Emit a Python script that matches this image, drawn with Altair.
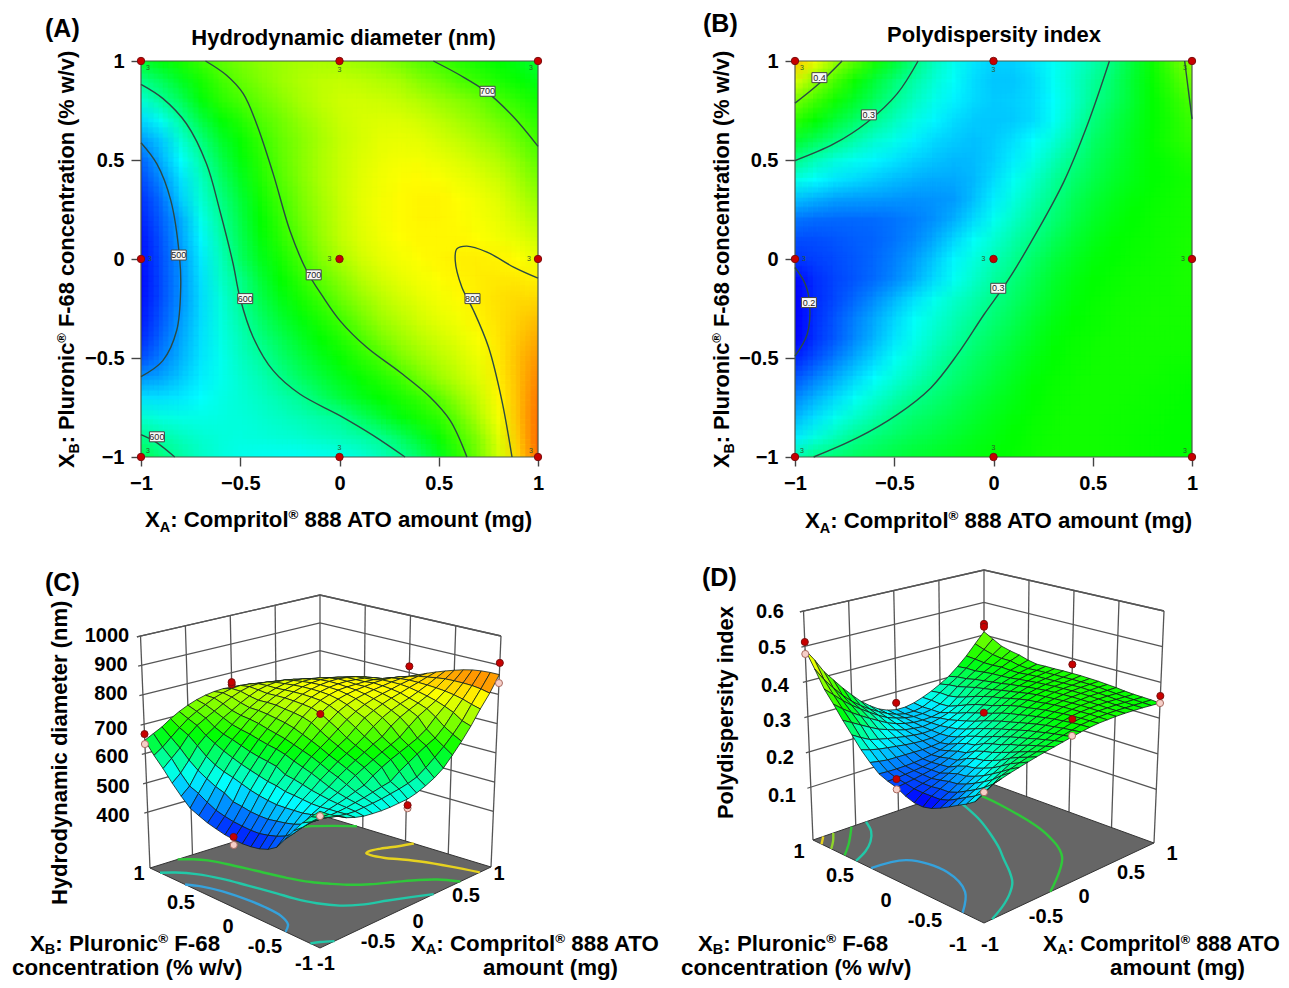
import altair as alt
import pandas as pd

FONT = "Liberation Sans"
GRID = [round(-1 + i * 0.1, 1) for i in range(21)]

# Hydrodynamic diameter (nm), rows from XB=1 down to XB=-1, columns XA=-1..1
A_ROWS = [
    [645,660,675,695,712,726,737,745,750,752,750,745,738,725,710,697,685,675,665,655,640],
    [605,625,650,675,698,715,730,745,755,762,765,762,757,750,735,722,705,693,680,668,655],
    [572,598,625,660,685,702,718,735,750,762,770,772,770,765,757,745,735,722,702,688,672],
    [535,560,595,635,662,682,705,722,740,755,768,775,778,778,772,762,750,738,722,705,686],
    [503,528,572,610,645,668,692,715,733,750,765,775,782,785,782,775,765,753,740,720,698],
    [475,515,555,592,630,660,685,712,733,752,767,778,786,790,790,786,778,768,757,737,712],
    [462,497,540,580,618,650,680,707,730,752,768,780,789,794,796,794,788,780,770,750,727],
    [450,482,530,572,607,640,672,699,725,748,767,781,790,796,799,799,795,789,780,762,742],
    [442,474,512,562,598,633,665,692,720,745,765,780,790,796,799,799,796,792,785,772,757],
    [435,468,508,552,590,628,660,685,712,740,762,778,788,795,797,797,797,795,790,783,771],
    [432,465,502,545,582,622,652,675,700,730,752,770,782,790,795,798,801,802,800,795,785],
    [430,463,500,540,578,605,640,665,688,712,735,757,772,783,790,795,799,803,805,804,800],
    [432,464,500,537,570,600,630,655,675,695,718,740,758,772,782,790,796,803,808,812,813],
    [437,470,505,538,568,593,620,642,660,680,698,722,745,760,773,783,791,800,808,817,825],
    [447,478,510,540,565,585,608,628,648,665,682,702,725,745,760,772,782,794,807,822,836],
    [465,490,517,542,562,580,596,617,635,652,668,685,700,725,745,760,773,787,805,826,846],
    [502,510,528,548,562,575,587,603,622,638,653,668,682,697,722,745,762,779,802,827,855],
    [540,540,545,555,565,572,580,590,600,620,637,652,665,678,692,712,742,768,797,827,862],
    [575,568,565,565,567,570,575,580,587,594,600,622,640,658,675,690,718,755,790,826,866],
    [605,592,582,575,570,568,570,572,575,580,585,592,602,622,645,670,700,735,780,822,868],
    [632,612,595,580,570,563,560,558,558,560,562,570,582,597,618,650,685,725,772,815,868],
]
# Polydispersity index x 1000
B_ROWS = [
    [490,455,415,385,355,328,302,282,265,254,248,248,253,262,273,287,303,325,350,380,410],
    [445,408,378,350,326,306,289,274,261,251,245,245,250,262,277,293,309,328,348,370,395],
    [398,375,352,331,313,296,280,266,257,250,246,247,251,260,276,296,312,328,345,362,380],
    [365,345,327,311,296,282,268,258,251,246,245,246,251,262,281,303,318,332,345,358,373],
    [330,316,302,288,275,266,257,250,246,243,246,252,260,272,290,310,322,335,347,358,368],
    [299,284,271,264,258,253,248,244,241,242,247,256,267,283,300,315,326,336,345,352,360],
    [268,260,254,250,246,242,239,237,237,241,251,263,277,293,308,320,330,338,345,350,355],
    [243,238,234,233,232,231,230,231,233,243,256,270,285,300,315,326,335,342,348,352,356],
    [222,220,219,219,220,222,225,230,238,250,264,278,293,306,320,331,339,345,350,353,356],
    [212,212,214,216,218,222,228,237,249,261,274,288,301,315,327,336,343,348,351,354,357],
    [205,208,211,215,219,225,234,245,258,270,283,296,310,323,333,341,346,350,352,354,357],
    [192,203,209,214,220,228,238,250,263,277,291,304,317,329,338,345,349,352,353,355,357],
    [184,202,210,219,229,240,252,264,276,287,299,310,322,333,341,347,351,353,354,355,356],
    [183,203,214,225,237,249,261,272,284,295,306,317,328,338,345,349,352,354,355,355,355],
    [189,204,215,228,240,253,265,278,290,303,313,323,333,342,348,351,353,354,354,354,353],
    [200,212,224,237,249,262,274,287,300,310,320,329,338,345,350,352,353,354,353,352,351],
    [213,225,237,249,260,272,284,296,306,316,325,334,342,348,351,353,353,353,352,350,348],
    [227,239,250,262,274,286,298,306,315,323,331,338,345,350,352,353,353,352,350,348,346],
    [240,252,265,277,289,301,309,315,322,329,336,342,348,351,353,353,352,351,349,347,345],
    [256,270,283,297,305,312,318,323,329,335,340,345,350,352,353,353,352,350,348,346,344],
    [285,301,307,313,318,323,328,332,336,340,344,348,351,353,353,353,352,350,348,345,342],
]
assert all(len(r) == 21 for r in A_ROWS + B_ROWS) and len(A_ROWS) == 21 and len(B_ROWS) == 21

A_DOMAIN = [425, 555, 665, 795, 920]
B_DOMAIN = [190, 260, 345, 460, 600]
RAINBOW = ["#0000ff", "#00ffff", "#00ff00", "#ffff00", "#ff0000"]

A_CONTOURS = [
    (500, [(-1,.587),(-.92,.48),(-.85,.296),(-.805,0),(-.80,-.142),(-.82,-.36),(-.89,-.513),(-1,-.594)]),
    (600, [(-1,.882),(-.889,.81),(-.771,.683),(-.67,.481),(-.603,.245),(-.536,-.024),(-.502,-.193),(-.435,-.395),(-.334,-.564),(-.2,-.682),(.002,-.791),(.171,-.892),(.33,-1)]),
    (600, [(-1,-.887),(-.923,-.926),(-.83,-1)]),
    (700, [(-.675,1),(-.569,.928),(-.485,.835),(-.418,.683),(-.334,.43),(-.25,.144),(-.166,-.058),(-.082,-.193),(.002,-.311),(.137,-.446),(.305,-.572),(.457,-.698),(.558,-.816),(.642,-1)]),
    (700, [(.473,1),(.608,.928),(.743,.843),(.877,.717),(1,.569)]),
    (800, [(1,-.097),(.877,-.041),(.743,.035),(.641,.065),(.591,.051),(.583,-.008),(.616,-.142),(.675,-.26),(.751,-.446),(.818,-.715),(.869,-1)]),
]
B_CONTOURS = [
    (200, [(-1,-.043),(-.948,-.127),(-.926,-.229),(-.939,-.381),(-1,-.49)]),
    (300, [(-.906,-1),(-.687,-.904),(-.485,-.786),(-.316,-.651),(-.182,-.482),(-.047,-.279),(.071,-.111),(.222,.143),(.357,.396),(.475,.683),(.584,1)]),
    (300, [(-1,.497),(-.805,.581),(-.636,.691),(-.485,.835),(-.38,1)]),
    (400, [(-1,.787),(-.88,.885),(-.763,1)]),
    (400, [(.963,1),(1,.708)]),
]
D_EXTRA_CONTOURS = [
    (250, [(-1,.32),(-.66,.24),(-.57,-.14),(-.72,-.5),(-1,-.75)]),
    (350, [(-.22,-1),(.31,-.61),(.55,-.18),(.72,.54),(.75,1)]),
    (350, [(-1,.63),(-.8,.78),(-.55,1)]),
    (450, [(-1,.9),(-.88,1)]),
]
A_LABELS = [(-.81,.02,"500"),(-.475,-.2,"600"),(-.13,-.08,"700"),(.67,-.2,"800"),(.746,.847,"700"),(-.92,-.898,"600")]
B_LABELS = [(-.877,.916,"0.4"),(-.628,.728,"0.3"),(-.93,-.22,"0.2"),(.024,-.148,"0.3")]

DESIGN_A = [-1, -1, -1, 0, 0, 0, 1, 1, 1]
DESIGN_B = [-1, 0, 1, -1, 0, 1, -1, 0, 1]
REP_DX = [7, 9, 7, 0, -10, 0, -7, -9, -7]
REP_DY = [-6, 0, 7, -9, 0, 9, -6, 0, 7]

C_ABOVE = [(-1,1,666),(0,1,759),(0,1,767),(1,0,822),(1,-1,908),(0,0,750),(0,-1,542),(-1,0,440)]
C_BELOW = [(-1,1,632),(1,-1,839),(0,-1,532),(-1,0,414),(-1,-1,617)]
D_ABOVE = [(-1,1,512),(1,1,434),(1,1,425),(1,0,383),(1,-1,362),(0,1,268),(0,0,328),(0,-1,392),(-1,0,228)]
D_BELOW = [(-1,1,478),(1,-1,342),(0,-1,347),(-1,0,200),(-1,-1,290)]

Z_C = [400, 500, 600, 700, 800, 900, 1000]
Z_D = [100, 200, 300, 400, 500, 600]
Z_C_TEXT = ["400", "500", "600", "700", "800", "900", "1000"]
Z_D_TEXT = ["0.1", "0.2", "0.3", "0.4", "0.5", "0.6"]
Z_C_LABEL_POS = [(113,816),(113,787),(112,757),(111,729),(111,694),(111,665),(107,636)]
Z_D_LABEL_POS = [(782,796),(780,758),(777,721),(775,686),(772,648),(770,612)]
FLOOR_TEXT = ["1", "0.5", "0", "-0.5", "-1", "-1", "-0.5", "0", "0.5", "1"]
C_FLOOR_POS = [(139,874),(181,903),(228,927),(265,947),(304,964),(326,964),(378,942),(418,922),(466,896),(499,874)]
D_FLOOR_POS = [(799,852),(840,876),(886,901),(925,921),(958,945),(990,945),(1046,917),(1084,897),(1131,873),(1172,854)]

C_FLOOR_COLORS = {500: "#35a2dc", 600: "#22c8a8", 700: "#2fc83a", 800: "#e6d21f"}
D_FLOOR_COLORS = {250: "#35a2dc", 300: "#22c8a8", 350: "#2fc83a", 400: "#8fd42a", 450: "#e6d21f"}

WIDTHS = {" ":278,"X":667,"A":722,"B":722,":":333,"C":722,"o":611,"m":889,"p":611,"r":389,"i":278,"t":333,"l":278,
          "®":737,"8":556,"T":611,"O":778,"a":556,"u":611,"n":611,"(":333,")":333,"g":611,"P":667,"F":611,"-":333,
          "6":556,"c":556,"e":556,"%":889,"w":556,"/":278,"v":556,"d":611,"H":722,"y":556,"s":556,"x":556}
TITLE_XA = [("X",1,0),("A",.65,.22),(": Compritol",1,0),("®",.6,-.35),(" 888 ATO amount (mg)",1,0)]
TITLE_XB = [("X",1,0),("B",.65,.22),(": Pluronic",1,0),("®",.6,-.35),(" F-68 concentration (% w/v)",1,0)]
LINE_XA = [("X",1,0),("A",.65,.14),(": Compritol",1,0),("®",.6,-.35),(" 888 ATO",1,0)]
LINE_XB = [("X",1,0),("B",.65,.14),(": Pluronic",1,0),("®",.6,-.35),(" F-68",1,0)]


def rich(x, y, pieces, size, angle=0):
    out = []
    pos = 0.0
    for text, scale, shift in pieces:
        s = size * scale
        stripped = text.lstrip(" ")
        pos += (len(text) - len(stripped)) * WIDTHS[" "] / 1000 * s
        off = shift * size
        if angle == 0:
            out.append(dict(x=x + pos, y=y + off, t=stripped, s=s, a=0))
        else:
            out.append(dict(x=x + off, y=y - pos, t=stripped, s=s, a=270))
        pos += sum(WIDTHS[c] for c in stripped) / 1000 * s
    return out


def cells(rows):
    out = []
    for r, row in enumerate(rows):
        yv = GRID[20 - r]
        for c, v in enumerate(row):
            xv = GRID[c]
            out.append(dict(
                x0=-1.3 if c == 0 else xv - .053, x1=1.3 if c == 20 else xv + .053,
                y0=-1.3 if r == 20 else yv - .053, y1=1.3 if r == 0 else yv + .053, v=v))
    return pd.DataFrame(out)


def lines_df(contours):
    out = []
    for k, (lv, pts) in enumerate(contours):
        for i, (x, y) in enumerate(pts):
            out.append(dict(id=k, i=i, x=x, y=y, lv=lv))
    return pd.DataFrame(out)


def text_layers(rows_left, rows_center, X, Y):
    enc = dict(x=X, y=Y, text="t:N", size=alt.Size("s:Q", scale=None, legend=None),
               angle=alt.Angle("a:Q", scale=None))
    out = [alt.Chart(pd.DataFrame(rows_left)).mark_text(font=FONT, fontWeight="bold", align="left",
                                                        baseline="alphabetic", color="#000").encode(**enc)]
    if rows_center:
        out.append(alt.Chart(pd.DataFrame(rows_center)).mark_text(font=FONT, fontWeight="bold", align="center",
                                                                  baseline="middle", color="#000").encode(**enc))
    return out


PANEL_W = 397


def heat_panel(rows, domain, contours, labels, left_px, top_px, title, title_cx, title_base, tag, tag_xy, ytitle_x, xtitle_x, xtitle_base):
    w, h = PANEL_W, 396
    sx = alt.Scale(domain=[-1, 1], nice=False)
    sy = alt.Scale(domain=[-1, 1], nice=False)
    color = alt.Color("v:Q", scale=alt.Scale(domain=domain, range=RAINBOW, interpolate="rgb"), legend=None)
    cdf = cells(rows)
    axx = alt.Axis(values=[-1, -.5, 0, .5, 1], title=None, grid=False, domain=False, tickSize=9, tickWidth=1.4,
                   tickColor="#444", labelFont=FONT, labelFontWeight="bold", labelFontSize=20, labelColor="#000",
                   labelPadding=7, labelFlush=False, labelOverlap=False, labelBound=False, format="~g",
                   labelExpr="replace(datum.label,'-','\u2212')")
    axy = alt.Axis(values=[-1, -.5, 0, .5, 1], title=None, grid=False, domain=False, tickSize=10, tickWidth=1.4,
                   tickColor="#444", labelFont=FONT, labelFontWeight="bold", labelFontSize=20, labelColor="#000",
                   labelPadding=7, labelFlush=False, labelOverlap=False, labelBound=False, format="~g",
                   labelExpr="replace(datum.label,'-','\u2212')")
    layers = []
    cell = 19.85
    shifts = [(-.375,-.375),(.125,-.375),(-.375,.125),(.125,.125),(-.125,-.125),(.375,-.125),(-.125,.375),(.375,.375)]
    for k, (dx, dy) in enumerate(shifts):
        layers.append(
            alt.Chart(cdf).mark_rect(clip=True, opacity=1 / (k + 1), xOffset=dx * cell, x2Offset=dx * cell,
                                     yOffset=dy * cell, y2Offset=dy * cell).encode(
                x=alt.X("x0:Q", scale=sx, axis=axx), x2="x1:Q",
                y=alt.Y("y0:Q", scale=sy, axis=axy), y2="y1:Q", color=color))
    X = alt.X("x:Q", scale=sx, axis=axx)
    Y = alt.Y("y:Q", scale=sy, axis=axy)
    layers.append(alt.Chart(pd.DataFrame([dict(x0=-1, x1=1, y0=-1, y1=1)])).mark_rect(
        filled=False, stroke="#4a5a4a", strokeWidth=1.2).encode(
        x=alt.X("x0:Q", scale=sx, axis=axx), x2="x1:Q", y=alt.Y("y0:Q", scale=sy, axis=axy), y2="y1:Q"))
    layers.append(alt.Chart(lines_df(contours)).mark_line(color="#2b4a44", strokeWidth=1.4, interpolate="catmull-rom").encode(
        x=X, y=Y, detail="id:N", order="i:Q"))
    ldf = pd.DataFrame([dict(x=a, y=b, t=t) for a, b, t in labels])
    layers.append(alt.Chart(ldf).mark_point(shape="M-0.75,-0.5H0.75V0.5H-0.75Z", size=400, filled=True, fill="#f8f8f8",
                                            stroke="#444", strokeWidth=1, opacity=1).encode(x=X, y=Y))
    layers.append(alt.Chart(ldf).mark_text(font=FONT, fontSize=9, color="#222").encode(x=X, y=Y, text="t:N"))
    rep = pd.DataFrame(dict(x=DESIGN_A, y=DESIGN_B, dx=REP_DX, dy=REP_DY, t=["3"] * 9))
    rep["x"] = rep["x"] + rep["dx"] / (w / 2)
    rep["y"] = rep["y"] - rep["dy"] / (h / 2)
    layers.append(alt.Chart(rep).mark_text(font=FONT, fontSize=7, color="#2a5a2a").encode(x=X, y=Y, text="t:N"))
    pts = pd.DataFrame(dict(x=DESIGN_A, y=DESIGN_B))
    layers.append(alt.Chart(pts).mark_point(filled=True, size=55, fill="#c80000", stroke="#7a1010", strokeWidth=1, opacity=1).encode(x=X, y=Y))

    def px(x, y):
        return (x - left_px) / w * 2 - 1, 1 - (y - top_px) / h * 2

    def conv(rows_):
        out = []
        for r in rows_:
            a, b = px(r["x"], r["y"])
            out.append({**r, "x": a, "y": b})
        return out

    left = rich(xtitle_x, xtitle_base, TITLE_XA, 22.2) + rich(ytitle_x, 468, TITLE_XB, 21.8, 270)
    left.append(dict(x=tag_xy[0], y=tag_xy[1], t=tag, s=25, a=0))
    left.append(dict(x=title_cx - sum(WIDTHS[c] for c in title) / 1000 * 22 / 2, y=title_base, t=title, s=22, a=0))
    layers += text_layers(conv(left), [], X, Y)
    return alt.layer(*layers).properties(width=w, height=h)


def make_proj(bot, top, z0, z1):
    def f(a, b, z):
        u, v = (a + 1) / 2, (b + 1) / 2
        t = (z - z0) / (z1 - z0)
        def bil(c):
            return (c[0] * (1 - u) * (1 - v) + c[1] * u * (1 - v) + c[2] * (1 - u) * v + c[3] * u * v)
        xb, yb = bil([p[0] for p in bot]), bil([p[1] for p in bot])
        xt, yt = bil([p[0] for p in top]), bil([p[1] for p in top])
        return xb + (xt - xb) * t, yb + (yt - yb) * t
    return f


def surface_panel(rows, domain, proj, z0, z1, zticks, ztext, zpos, floor_pos, contours, floor_colors, above, below,
                  xdom, ydom, ytitle, tag, tag_xy, line_pos, xa_size):
    w, h = PANEL_W, 350
    sx = alt.Scale(domain=[xdom, xdom + w], nice=False)
    sy = alt.Scale(domain=[ydom + h, ydom], nice=False)
    X = alt.X("x:Q", scale=sx, axis=None)
    Y = alt.Y("y:Q", scale=sy, axis=None)
    geo = dict(type="identity", scale=1, translate=[0, 0])

    def rel(p):
        return [round(p[0] - xdom, 2), round(p[1] - ydom, 2)]

    floor_ring = [rel(proj(-1, -1, z0)), rel(proj(1, -1, z0)), rel(proj(1, 1, z0)), rel(proj(-1, 1, z0)), rel(proj(-1, -1, z0))]
    floor = alt.Chart(alt.Data(values=[{"type": "Feature", "properties": {"k": 1},
                                        "geometry": {"type": "Polygon", "coordinates": [floor_ring]}}])).mark_geoshape(
        fill="#666666", stroke="#333333", strokeWidth=1).project(**geo)

    seg = []
    sid = 0

    def add(pts):
        nonlocal sid
        for i, p in enumerate(pts):
            seg.append(dict(id=sid, i=i, x=p[0], y=p[1]))
        sid += 1

    for z in zticks + [z1]:
        add([proj(-1.04, 1, z), proj(1, 1, z), proj(1, -1, z)])
    for a in [-1, -.5, 0, .5, 1]:
        add([proj(a, 1, z0), proj(a, 1, z1)])
    for b in [-1, -.5, 0, .5]:
        add([proj(1, b, z0), proj(1, b, z1)])
    walls = alt.Chart(pd.DataFrame(seg)).mark_line(color="#555555", strokeWidth=1.3).encode(x=X, y=Y, detail="id:N", order="i:Q")

    cseg = []
    for k, (lv, pts) in enumerate(contours):
        for i, (a, b) in enumerate(pts):
            p = proj(a, b, z0)
            cseg.append(dict(id=k, i=i, x=p[0], y=p[1], col=floor_colors[lv]))
    floor_lines = alt.Chart(pd.DataFrame(cseg)).mark_line(strokeWidth=2.4, interpolate="catmull-rom").encode(
        x=X, y=Y, detail="id:N", order="i:Q", stroke=alt.Stroke("col:N", scale=None))

    quads = []
    for i in range(20):
        for j in range(20):
            corners = [(i, j), (i + 1, j), (i + 1, j + 1), (i, j + 1), (i, j)]
            ring = [rel(proj(GRID[c], GRID[r], rows[20 - r][c])) for c, r in corners]
            v = (rows[20 - j][i] + rows[20 - j][i + 1] + rows[19 - j][i] + rows[19 - j][i + 1]) / 4
            quads.append((-(i + j), {"type": "Feature", "properties": {"v": v},
                                     "geometry": {"type": "Polygon", "coordinates": [ring]}}))
    quads.sort(key=lambda q: q[0])
    surface = alt.Chart(alt.Data(values=[q[1] for q in quads])).mark_geoshape(stroke="#102018", strokeWidth=.8).encode(
        color=alt.Color("properties.v:Q", scale=alt.Scale(domain=domain, range=RAINBOW, interpolate="rgb"), legend=None)).project(**geo)

    def dots(items, fill, stroke):
        rows_ = [dict(zip("xy", proj(a, b, z))) for a, b, z in items]
        return alt.Chart(pd.DataFrame(rows_)).mark_point(filled=True, size=50, fill=fill, stroke=stroke, strokeWidth=1, opacity=1).encode(x=X, y=Y)

    center = [dict(x=p[0], y=p[1], t=t, s=20, a=0) for p, t in zip(zpos, ztext)]
    center += [dict(x=p[0], y=p[1], t=t, s=20, a=0) for p, t in zip(floor_pos, FLOOR_TEXT)]
    left = [dict(x=tag_xy[0], y=tag_xy[1], t=tag, s=25, a=0)]
    left += rich(line_pos[0][0], line_pos[0][1], LINE_XB, 22.3)
    left.append(dict(x=line_pos[1][0], y=line_pos[1][1], t="concentration (% w/v)", s=22.3, a=0))
    left += rich(line_pos[2][0], line_pos[2][1], LINE_XA, xa_size)
    left.append(dict(x=line_pos[3][0], y=line_pos[3][1], t="amount (mg)", s=22.3, a=0))
    left.append(dict(x=ytitle[0], y=ytitle[1], t=ytitle[2], s=ytitle[3], a=270))
    layers = [walls, floor, floor_lines, surface, dots(below, "#f6cfc8", "#a86a60"),
              dots(above, "#c80000", "#7a1010")] + text_layers(left, center, X, Y)
    return alt.layer(*layers).properties(width=w, height=h)


panel_a = heat_panel(A_ROWS, A_DOMAIN, A_CONTOURS, A_LABELS, 141, 61, "Hydrodynamic diameter (nm)", 343.5, 45, "(A)", (45, 37), 74, 145, 527)
panel_b = heat_panel(B_ROWS, B_DOMAIN, B_CONTOURS, B_LABELS, 795, 61, "Polydispersity index", 994, 42, "(B)", (703, 32), 729, 805, 528)

proj_c = make_proj([(320,948),(491,867),(150,868),(320,815)], [(320,692),(501,636),(140.5,636),(320,595)], 210, 1000)
proj_d = make_proj([(984,923),(1154,843),(813,840),(984,781)], [(984,673),(1164,611),(803.5,611),(984,570)], -50, 600)

panel_c = surface_panel(A_ROWS, A_DOMAIN, proj_c, 210, 1000, Z_C, Z_C_TEXT, Z_C_LABEL_POS, C_FLOOR_POS, A_CONTOURS,
                        C_FLOOR_COLORS, C_ABOVE, C_BELOW, 141, 600, (67, 905, "Hydrodynamic diameter (nm)", 22),
                        "(C)", (45, 591), [(30, 951), (12, 975), (411, 951), (483, 975)], 22.3)
panel_d = surface_panel(B_ROWS, B_DOMAIN, proj_d, -50, 600, Z_D, Z_D_TEXT, Z_D_LABEL_POS, D_FLOOR_POS,
                        B_CONTOURS[1:4] + D_EXTRA_CONTOURS, D_FLOOR_COLORS, D_ABOVE, D_BELOW, 795, 600,
                        (733, 819, "Polydispersity index", 21.9), "(D)", (702, 586),
                        [(698, 951), (681, 975), (1043, 951), (1110, 975)], 21.3)

# Fixed page: plot origin at (141, 61) after the 8px margin, whole drawing 1273 wide and 972 tall.
chart = alt.concat(panel_a, panel_b, panel_c, panel_d, columns=2, spacing={"row": 143, "column": 257}, bounds="flush",
                   autosize=alt.AutoSizeParams(type="none"),
                   padding={"left": 133, "top": 53, "right": 1140, "bottom": 919}, background="#ffffff"
                   ).resolve_scale(color="independent").configure_view(stroke=None)
chart.save("out.html", embed_options={"renderer": "svg", "actions": False})
